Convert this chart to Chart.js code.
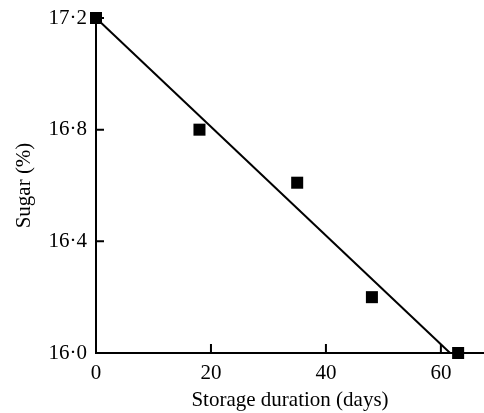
<!DOCTYPE html>
<html>
<head>
<meta charset="utf-8">
<script src="https://cdn.jsdelivr.net/npm/chart.js@4"></script>
<style>
  html, body { margin: 0; padding: 0; background: #fff; }
  #wrap { width: 484px; height: 413px; }
</style>
</head>
<body>
<div id="wrap"><canvas id="sugar"></canvas></div>
<script>
// measured points
var days = [0, 18, 35, 48, 63];
var sugar = [17.2, 16.8, 16.61, 16.2, 16.0];

// fitted line (end points)
var fitDays = [0, 61.6];
var fitSugar = [17.2, 16.0];

var xTicks = [0, 20, 40, 60];
var yTicks = [16.0, 16.4, 16.8, 17.2];

var serif = "'Liberation Serif', 'Times New Roman', serif";

function toPts(xs, ys) {
  return xs.map(function(x, i) { return { x: x, y: ys[i] }; });
}

// small inward tick marks like the printed figure
var innerTicks = {
  id: 'innerTicks',
  afterDatasetsDraw: function(chart) {
    var ctx = chart.ctx, xs = chart.scales.x, ys = chart.scales.y;
    var area = chart.chartArea;
    ctx.save();
    ctx.strokeStyle = '#000';
    ctx.lineWidth = 2;
    ctx.beginPath();
    xTicks.forEach(function(v) {
      var px = xs.getPixelForValue(v);
      ctx.moveTo(px, area.bottom);
      ctx.lineTo(px, area.bottom - 9);
    });
    yTicks.forEach(function(v) {
      var py = ys.getPixelForValue(v);
      ctx.moveTo(area.left, py);
      ctx.lineTo(area.left + 8, py);
    });
    ctx.stroke();
    ctx.restore();
  }
};

new Chart('sugar', {
  type: 'scatter',
  plugins: [innerTicks],
  data: {
    datasets: [
      {
        data: toPts(fitDays, fitSugar),
        showLine: true,
        borderColor: '#000',
        borderWidth: 2,
        pointRadius: 0,
        clip: false
      },
      {
        data: toPts(days, sugar),
        pointStyle: 'rect',
        pointRadius: 8.5,
        backgroundColor: '#000',
        borderColor: '#000',
        borderWidth: 0,
        clip: false
      }
    ]
  },
  options: {
    responsive: true,
    maintainAspectRatio: false,
    animation: false,
    layout: { autoPadding: false, padding: { top: 18, right: 0, bottom: 0, left: 0 } },
    plugins: {
      legend: { display: false },
      tooltip: { enabled: false }
    },
    scales: {
      x: {
        type: 'linear',
        min: 0,
        max: 67.5,
        afterBuildTicks: function(s) { s.ticks = xTicks.map(function(v) { return { value: v }; }); },
        afterFit: function(s) { s.height = 60; s.paddingLeft = 0; s.paddingRight = 0; },
        grid: { display: false, drawTicks: false },
        border: { display: true, color: '#000', width: 2 },
        ticks: {
          padding: 8,
          color: '#000',
          font: { family: serif, size: 21 }
        },
        title: {
          display: true,
          text: 'Storage duration (days)',
          color: '#000',
          font: { family: serif, size: 21 },
          padding: { top: 0, bottom: 0 }
        }
      },
      y: {
        type: 'linear',
        min: 16.0,
        max: 17.2,
        afterBuildTicks: function(s) { s.ticks = yTicks.map(function(v) { return { value: v }; }); },
        afterFit: function(s) { s.width = 96; s.paddingTop = 0; s.paddingBottom = 0; },
        grid: { display: false, drawTicks: false },
        border: { display: true, color: '#000', width: 2 },
        ticks: {
          padding: 9,
          color: '#000',
          font: { family: serif, size: 21 },
          callback: function(v) { return Number(v).toFixed(1).replace('.', '\u00b7'); }
        },
        title: {
          display: true,
          text: 'Sugar (%)',
          color: '#000',
          font: { family: serif, size: 21 },
          padding: { top: 12, bottom: 0 }
        }
      }
    }
  }
});
</script>
</body>
</html>
